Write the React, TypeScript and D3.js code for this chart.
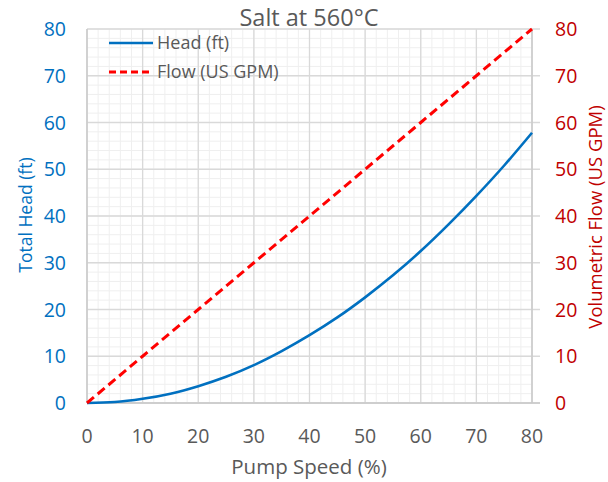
import React, { useEffect, useRef } from 'react';
import * as d3 from 'd3';

// pump speed (%) samples
const speed = [0, 5, 10, 15, 20, 25, 30, 35, 40, 45, 50, 55, 60, 65, 70, 75, 80];
// total head (ft)
const head = [0, 0.2, 0.9, 2.0, 3.6, 5.6, 8.1, 11.1, 14.5, 18.3, 22.6, 27.3, 32.5, 38.2, 44.3, 50.8, 57.8];
// volumetric flow (US GPM), red dashed line
const flowSpeed = [0, 10, 20, 30, 40, 50, 60, 70, 80];
const flow = [0, 10, 20, 30, 40, 50, 60, 70, 80];

const xTicks = [0, 10, 20, 30, 40, 50, 60, 70, 80];
const yTicks = [0, 10, 20, 30, 40, 50, 60, 70, 80];

const W = 608, H = 482;
const margin = { top: 29, right: 76, bottom: 79, left: 87 };
const FONT = '"Open Sans", sans-serif';
const BLUE = '#0070c0';
const RED_TXT = '#c00000';
const GREY_TXT = '#595959';

const App = () => {
  const ref = useRef<SVGSVGElement>(null);

  useEffect(() => {
    const svg = d3.select(ref.current);
    svg.selectAll('*').remove();

    const x = d3.scaleLinear().domain([0, 80]).range([margin.left, W - margin.right]);
    const yL = d3.scaleLinear().domain([0, 80]).range([H - margin.bottom, margin.top]);
    const yR = d3.scaleLinear().domain([0, 80]).range([H - margin.bottom, margin.top]);

    const minor = d3.range(0, 81, 2);

    // minor grid
    const g = svg.append('g');
    g.selectAll('.mx').data(minor).join('line')
      .attr('x1', d => x(d)).attr('x2', d => x(d))
      .attr('y1', yL(0)).attr('y2', yL(80))
      .attr('stroke', '#efefef').attr('stroke-width', 1);
    g.selectAll('.my').data(minor).join('line')
      .attr('class', 'my')
      .attr('y1', d => yL(d)).attr('y2', d => yL(d))
      .attr('x1', x(0)).attr('x2', x(80))
      .attr('stroke', '#efefef').attr('stroke-width', 1);

    // major grid
    g.selectAll('.gx').data(xTicks).join('line')
      .attr('class', 'gx')
      .attr('x1', d => x(d)).attr('x2', d => x(d))
      .attr('y1', yL(0)).attr('y2', yL(80))
      .attr('stroke', '#d9d9d9').attr('stroke-width', 1.3);
    g.selectAll('.gy').data(yTicks).join('line')
      .attr('class', 'gy')
      .attr('y1', d => yL(d)).attr('y2', d => yL(d))
      .attr('x1', x(0)).attr('x2', x(80) + 8)
      .attr('stroke', '#d9d9d9').attr('stroke-width', 1.3);

    // axes lines
    svg.append('line').attr('x1', x(0)).attr('x2', x(0)).attr('y1', yL(0)).attr('y2', yL(80))
      .attr('stroke', '#c8c8c8').attr('stroke-width', 1.3);
    svg.append('line').attr('x1', x(80)).attr('x2', x(80)).attr('y1', yL(0)).attr('y2', yL(80))
      .attr('stroke', '#c8c8c8').attr('stroke-width', 1.3);
    svg.append('line').attr('x1', x(0)).attr('x2', x(80) + 8).attr('y1', yL(0)).attr('y2', yL(0))
      .attr('stroke', '#c8c8c8').attr('stroke-width', 1.3);

    // tick labels
    svg.append('g').selectAll('text').data(yTicks).join('text')
      .attr('x', x(0) - 21).attr('y', d => yL(d)).attr('dy', '0.36em')
      .attr('text-anchor', 'end').attr('fill', BLUE)
      .style('font-family', FONT).style('font-size', '19.5px')
      .text(d => d);
    svg.append('g').selectAll('text').data(yTicks).join('text')
      .attr('x', x(80) + 23).attr('y', d => yR(d)).attr('dy', '0.36em')
      .attr('text-anchor', 'start').attr('fill', RED_TXT)
      .style('font-family', FONT).style('font-size', '19.5px')
      .text(d => d);
    svg.append('g').selectAll('text').data(xTicks).join('text')
      .attr('x', d => x(d)).attr('y', yL(0) + 40)
      .attr('text-anchor', 'middle').attr('fill', GREY_TXT)
      .style('font-family', FONT).style('font-size', '19.5px')
      .text(d => d);

    // titles
    svg.append('text').attr('x', 309).attr('y', 26).attr('text-anchor', 'middle')
      .attr('fill', GREY_TXT).style('font-family', FONT).style('font-size', '23.5px')
      .text('Salt at 560°C');
    svg.append('text').attr('x', 309).attr('y', 474).attr('text-anchor', 'middle')
      .attr('fill', GREY_TXT).style('font-family', FONT).style('font-size', '20.5px')
      .text('Pump Speed (%)');
    svg.append('text')
      .attr('transform', `translate(32,215) rotate(-90)`)
      .attr('text-anchor', 'middle').attr('fill', BLUE)
      .style('font-family', FONT).style('font-size', '17.5px')
      .text('Total Head (ft)');
    svg.append('text')
      .attr('transform', `translate(602,217) rotate(-90)`)
      .attr('text-anchor', 'middle').attr('fill', RED_TXT)
      .style('font-family', FONT).style('font-size', '18.5px')
      .text('Volumetric Flow (US GPM)');

    // series
    const headLine = d3.line<number>().x((d, i) => x(speed[i])).y(d => yL(d)).curve(d3.curveMonotoneX);
    svg.append('path').datum(head).attr('d', headLine)
      .attr('fill', 'none').attr('stroke', BLUE).attr('stroke-width', 2.6);
    const flowLine = d3.line<number>().x((d, i) => x(flowSpeed[i])).y(d => yR(d));
    svg.append('path').datum(flow).attr('d', flowLine)
      .attr('fill', 'none').attr('stroke', '#ff0000').attr('stroke-width', 3)
      .attr('stroke-dasharray', '9,5');

    // legend
    const lg = svg.append('g');
    lg.append('line').attr('x1', 109).attr('x2', 153).attr('y1', 43).attr('y2', 43)
      .attr('stroke', BLUE).attr('stroke-width', 2.6);
    lg.append('text').attr('x', 157).attr('y', 43).attr('dy', '0.36em').attr('fill', GREY_TXT)
      .style('font-family', FONT).style('font-size', '18px').text('Head (ft)');
    lg.append('line').attr('x1', 109).attr('x2', 153).attr('y1', 72).attr('y2', 72)
      .attr('stroke', '#ff0000').attr('stroke-width', 3).attr('stroke-dasharray', '7,4');
    lg.append('text').attr('x', 157).attr('y', 72).attr('dy', '0.36em').attr('fill', GREY_TXT)
      .style('font-family', FONT).style('font-size', '18px').text('Flow (US GPM)');
  }, []);

  return (
    <svg ref={ref} width={W} height={H}
      style={{ position: 'absolute', top: 0, left: 0, background: '#fff' }} />
  );
};

export default App;
